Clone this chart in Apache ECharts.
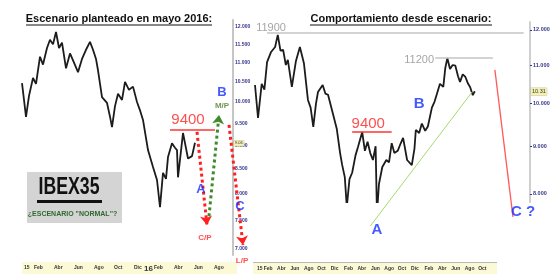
<!DOCTYPE html>
<html><head><meta charset="utf-8">
<script src="https://cdn.jsdelivr.net/npm/echarts@6/dist/echarts.min.js"></script>
<style>html,body{margin:0;padding:0;background:#fff}#c{width:559px;height:274px}</style>
</head><body><div id="c"></div>
<script>
// ---- DATA (months since Jan 2015, IBEX35 level) ----
const leftMonths = [0.0,0.2,0.4,0.7,1.1,1.4,1.8,2.1,2.5,2.8,3.1,3.4,3.7,4.0,4.4,4.8,5.2,5.6,6.0,6.4,6.8,7.1,7.4,7.6,8.0,8.5,8.8,9.0,9.3,9.6,10.0,10.3,10.7,11.1,11.5,11.8,12.1,12.6,13.1,13.5,13.8,14.1,14.4,14.6,15.0,15.3,15.5,15.6,16.1,16.3,16.6,17.0,17.3];
const leftPrices = [10470,10050,9645,10150,10600,10450,11160,10950,11400,11630,11500,11850,11400,11550,10850,11250,11000,10750,11100,11350,11570,11350,11100,10800,10120,9980,9650,9410,9900,10200,10050,10500,10300,10380,10000,9800,9575,8900,8540,8276,7750,8420,8300,8750,9050,8950,8900,8330,9275,9050,8720,8770,9060];

const rightMonths = [0.0,0.45,1.0,1.4,1.8,2.4,3.0,3.4,3.8,4.2,4.6,4.9,5.5,6.1,6.7,7.3,7.9,8.3,8.7,9.1,9.4,10.1,10.5,10.9,11.6,12.2,12.7,13.0,13.4,13.7,14.1,14.5,15.0,15.4,16.0,16.4,16.8,17.2,17.6,18.0,18.2,18.5,19.0,19.6,20.0,20.4,20.8,21.3,21.7,22.1,22.7,23.4,23.8,24.0,24.5,24.9,25.4,25.8,26.4,26.8,27.2,27.6,28.1,28.4,28.7,29.1,29.5,29.9,30.3,30.6,31.0,31.4,31.8,32.1,32.5,32.8];
const rightPrices = [10470,9650,10500,10350,11080,11360,11500,11850,11400,11420,11000,11140,10420,11100,11500,11050,10090,9900,9440,10000,10290,10470,10250,10220,9770,9400,8850,8600,8340,7750,8300,8430,8800,9000,9320,8900,9100,8850,8700,9000,7620,8200,8550,8700,8650,9070,8850,8900,9050,9190,8700,8590,8950,9370,9300,9520,9350,9450,9900,10050,10270,10500,10420,10920,11190,10890,11000,10980,10700,10550,10750,10680,10500,10420,10210,10310];

const leftYTicks = [12000,11500,11000,10500,10000,9500,9000,8500,8000,7500,7000];
const rightYTicks = [12000,11000,10000,9000,8000];
const monthNames = ['Ene','Feb','Mar','Abr','May','Jun','Jul','Ago','Sep','Oct','Nov','Dic'];
const leftXTicks = [0,1,3,5,7,9,11,12,13,15,17,19];
const rightXTicks = [0,1,3,5,7,9,11,13,15,17,19,21,23,25,27,29,31,33];

// annotations: [month, price]
const leftLevel = [[14.8,9340],[19.3,9340]];
const leftArrowA = [[17.5,9300],[18.5,7420]];
const leftArrowB = [[18.7,7580],[19.7,9690]];
const leftArrowC = [[20.7,9460],[22.1,7070]];
const leftNotes = [['9400',16.6,9570],['A',17.9,8080],['C/P',18.3,7190],['B',20.0,10240],['M/P',20.0,9900],['C',21.8,7770],['L/P',22.0,6800]];
const leftLast = 9060;

const rightLevelTop = [[1.8,11900],[40.1,11900]];
const rightLevelB = [[26.9,11190],[35.5,11190]];
const rightLevel9400 = [[14.5,9320],[20.4,9320]];
const rightTrend = [[17.2,7390],[32.4,10290]];
const rightProjection = [[35.8,10870],[38.5,7560]];
const rightNotes = [['11900',2.4,12050],['11200',24.5,11140],['9400',16.9,9510],['B',24.5,9990],['A',18.2,7320],['C ?',40.0,7650]];
const rightLast = 10310;

// ---- BUILD ----
const L = Math.log;
const pts = (ms, ps) => ms.map((m, i) => [m, L(ps[i])]);
const seg = s => s.map(([m, p]) => [m, L(p)]);
const fmtPrice = v => (Math.round(Math.exp(v) / 100) * 100 / 1000).toFixed(3);
const FONT = 'Liberation Sans, Arial, sans-serif';

function noteStyle(t, side) {
  if (t === 'A' || t === 'B' || t === 'C' || t === 'C ?') return {fontSize: side === 0 ? 13 : 15, fontWeight: 'bold', color: '#1530ff'};
  if (t === '9400') return {fontSize: 15, color: '#ff2222'};
  if (t === '11900' || t === '11200') return {fontSize: 11, color: '#8f8f8f'};
  if (t === 'M/P') return {fontSize: 8, fontWeight: 'bold', color: '#4d7a2c'};
  return {fontSize: 8, fontWeight: 'bold', color: '#ff2020'};
}
function notesSeries(notes, idx) {
  return {type: 'scatter', xAxisIndex: idx, yAxisIndex: idx, clip: false, silent: true, z: 5,
    symbolSize: 1, itemStyle: {color: 'rgba(0,0,0,0)'},
    data: notes.map(([t, m, p]) => ({value: [m, L(p)], label: Object.assign({show: true, position: 'inside', formatter: t, fontFamily: FONT}, noteStyle(t, idx))}))};
}
function linesSeries(segs, idx, style, arrow) {
  return {type: 'lines', coordinateSystem: 'cartesian2d', xAxisIndex: idx, yAxisIndex: idx, clip: false, silent: true, z: 4,
    symbol: arrow ? ['none', 'arrow'] : ['none', 'none'], symbolSize: arrow ? 9 : 0,
    lineStyle: Object.assign({opacity: 1, curveness: 0}, style), data: segs.map(s => ({coords: seg(s)}))};
}
function lastLabel(price, text, fs) {
  return {symbol: 'none', silent: true, lineStyle: {color: 'rgba(0,0,0,0)'},
    label: {show: true, position: 'end', distance: 1, formatter: text, fontSize: fs, color: '#333', backgroundColor: '#f4f1b4', borderColor: '#c8c080', borderWidth: 0.5, padding: [1, 1, 0, 1]},
    data: [{yAxis: L(price)}]};
}
const xLabelBase = {fontSize: 5, fontWeight: 'bold', color: '#333', align: 'left', padding: [0, 0, 0, 2], fontFamily: FONT};

const option = {
  animation: false,
  textStyle: {fontFamily: FONT},
  grid: [
    {left: 22, top: 20, width: 211, height: 235},
    {left: 255, top: 22, width: 275, height: 180}
  ],
  xAxis: [
    {gridIndex: 0, type: 'value', min: 0, max: 21.1, axisLine: {show: false}, axisTick: {show: false}, splitLine: {show: false},
      axisLabel: Object.assign({}, xLabelBase, {customValues: leftXTicks, margin: 10,
        formatter: v => v === 0 ? '15' : (v === 12 ? '{y|16}' : monthNames[v % 12]),
        rich: {y: {fontSize: 8, fontWeight: 'bold', color: '#333'}}})},
    {gridIndex: 1, type: 'value', min: 0, max: 41.04, axisLine: {show: false}, axisTick: {show: false}, splitLine: {show: false},
      axisLabel: Object.assign({}, xLabelBase, {customValues: rightXTicks, margin: 64,
        formatter: v => v === 0 ? '15' : monthNames[v % 12]})}
  ],
  yAxis: [
    {gridIndex: 0, type: 'value', position: 'right', min: L(6900), max: L(12200), splitLine: {show: false},
      axisLine: {show: true, onZero: false, lineStyle: {color: '#c6c6c6', width: 2}}, axisTick: {show: false},
      axisLabel: {customValues: leftYTicks.map(L), formatter: fmtPrice, fontSize: 5, fontWeight: 'bold', color: '#34348c', margin: 2}},
    {gridIndex: 1, type: 'value', position: 'right', min: L(7843), max: L(12232), splitLine: {show: false},
      axisLine: {show: true, onZero: false, lineStyle: {color: '#cfcfcf', width: 2}},
      axisTick: {show: true, length: 2, customValues: rightYTicks.map(L), lineStyle: {color: '#34348c'}},
      axisLabel: {customValues: rightYTicks.map(L), formatter: fmtPrice, fontSize: 5.5, fontWeight: 'bold', color: '#34348c', margin: 3}}
  ],
  series: [
    {type: 'line', xAxisIndex: 0, yAxisIndex: 0, data: pts(leftMonths, leftPrices), showSymbol: false, silent: true,
      lineStyle: {color: '#1c1c1c', width: 1.8}, markLine: lastLabel(leftLast, '9.06', 4)},
    {type: 'line', xAxisIndex: 1, yAxisIndex: 1, data: pts(rightMonths, rightPrices), showSymbol: false, silent: true,
      lineStyle: {color: '#1c1c1c', width: 1.8}, markLine: lastLabel(rightLast, '10.31', 5.5)},
    linesSeries([leftLevel], 0, {color: '#ff3333', width: 1.5}, false),
    linesSeries([leftArrowA, leftArrowC], 0, {color: '#ff1f1f', width: 3, type: 'dotted'}, true),
    linesSeries([leftArrowB], 0, {color: '#3f8a2a', width: 3, type: 'dotted'}, true),
    notesSeries(leftNotes, 0),
    linesSeries([rightLevelTop, rightLevelB], 1, {color: '#c4c4c4', width: 1.5}, false),
    linesSeries([rightLevel9400], 1, {color: '#ff3333', width: 1.5}, false),
    linesSeries([rightTrend], 1, {color: '#a8d870', width: 1}, false),
    linesSeries([rightProjection], 1, {color: '#ff5a5a', width: 1.3}, false),
    notesSeries(rightNotes, 1)
  ],
  graphic: [
    {type: 'rect', shape: {x: 22, y: 262, width: 215, height: 12}, style: {fill: '#fcfad6'}, z: -1},
    {type: 'rect', shape: {x: 253, y: 262, width: 244, height: 12}, style: {fill: '#fcfad6'}, z: -1},
    {type: 'line', shape: {x1: 253, y1: 262.5, x2: 497, y2: 262.5}, style: {stroke: '#b8b8b8', lineWidth: 1}},
    {type: 'text', style: {text: 'Escenario planteado en mayo 2016:', x: 119, y: 18.5, font: 'bold 11px ' + FONT, fill: '#111', textAlign: 'center', textVerticalAlign: 'middle', align: 'center', verticalAlign: 'middle'}},
    {type: 'line', shape: {x1: 26, y1: 25, x2: 212, y2: 25}, style: {stroke: '#111', lineWidth: 1}},
    {type: 'text', style: {text: 'Comportamiento desde escenario:', x: 401, y: 18.5, font: 'bold 11px ' + FONT, fill: '#111', textAlign: 'center', textVerticalAlign: 'middle', align: 'center', verticalAlign: 'middle'}},
    {type: 'line', shape: {x1: 310, y1: 25, x2: 492, y2: 25}, style: {stroke: '#111', lineWidth: 1}},
    {type: 'rect', shape: {x: 27, y: 172, width: 95, height: 51}, style: {fill: '#d4d4d4'}},
    {type: 'text', x: 69, y: 188, scaleX: 0.77, style: {text: 'IBEX35', x: 0, y: 0, font: 'bold 23px ' + FONT, fill: '#111', textAlign: 'center', textVerticalAlign: 'middle', align: 'center', verticalAlign: 'middle'}},
    {type: 'rect', shape: {x: 37, y: 200, width: 65, height: 3}, style: {fill: '#111'}},
    {type: 'text', style: {text: '¿ESCENARIO "NORMAL"?', x: 72.5, y: 214, font: 'bold 7px ' + FONT, fill: '#2f6a2f', textAlign: 'center', textVerticalAlign: 'middle', align: 'center', verticalAlign: 'middle'}}
  ]
};
const chart = echarts.init(document.getElementById('c'), null, {renderer: 'canvas'});
chart.setOption(option);
</script></body></html>
